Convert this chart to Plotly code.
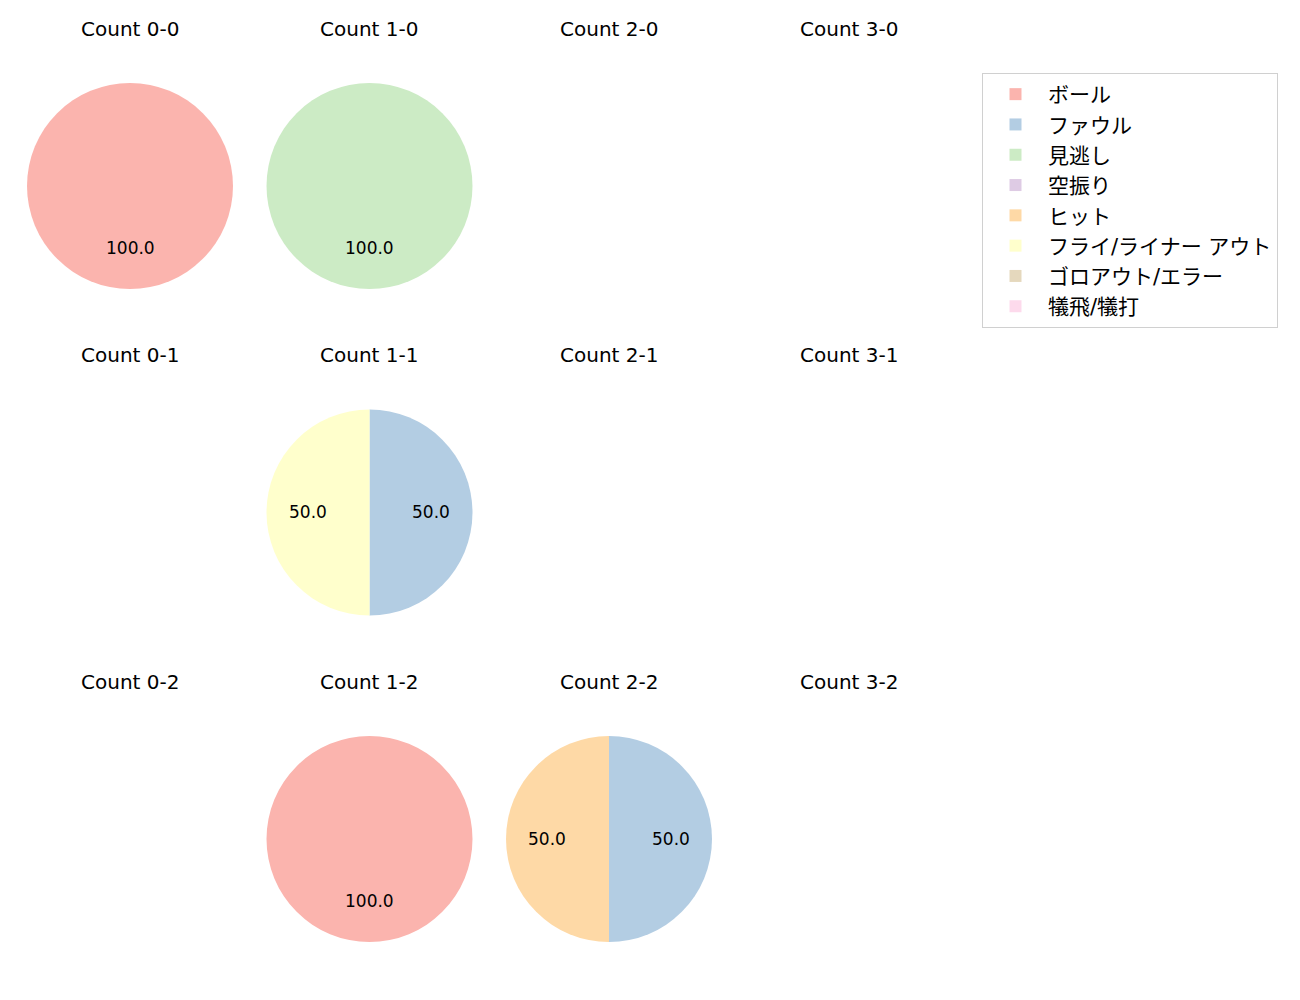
import math
import plotly.graph_objects as go

# ---- data ----
categories = ["ボール", "ファウル", "見逃し", "空振り", "ヒット",
              "フライ/ライナー アウト", "ゴロアウト/エラー", "犠飛/犠打"]
colors = ["#fbb4ae", "#b3cde3", "#ccebc5", "#decbe4", "#fed9a6",
          "#ffffcc", "#e5d8bd", "#fddaec"]
counts = ["0-0", "1-0", "2-0", "3-0",
          "0-1", "1-1", "2-1", "3-1",
          "0-2", "1-2", "2-2", "3-2"]
values = {
    "0-0": [1, 0, 0, 0, 0, 0, 0, 0],
    "1-0": [0, 0, 1, 0, 0, 0, 0, 0],
    "2-0": [0, 0, 0, 0, 0, 0, 0, 0],
    "3-0": [0, 0, 0, 0, 0, 0, 0, 0],
    "0-1": [0, 0, 0, 0, 0, 0, 0, 0],
    "1-1": [0, 1, 0, 0, 0, 1, 0, 0],
    "2-1": [0, 0, 0, 0, 0, 0, 0, 0],
    "3-1": [0, 0, 0, 0, 0, 0, 0, 0],
    "0-2": [0, 0, 0, 0, 0, 0, 0, 0],
    "1-2": [1, 0, 0, 0, 0, 0, 0, 0],
    "2-2": [0, 1, 0, 0, 1, 0, 0, 0],
    "3-2": [0, 0, 0, 0, 0, 0, 0, 0],
}

# ---- layout geometry (pixels, figure coordinates) ----
W, H = 1300, 1000
OFF = 8  # page body margin
col_cx = [130 - OFF, 369.5 - OFF, 609 - OFF, 849 - OFF]
row_cy = [186 - OFF, 512.5 - OFF, 839 - OFF]
R = 103
LATIN = "DejaVu Sans"
CJK = "DejaVu Sans, Noto Sans CJK JP"

fig = go.Figure()
annotations = []
for idx, c in enumerate(counts):
    col = idx % 4
    row = idx // 4
    cx, cy = col_cx[col], row_cy[row]
    # title
    annotations.append(dict(
        x=cx / W, y=1 - (cy - 157) / H, xref="paper", yref="paper",
        text=f"Count {c}", showarrow=False,
        font=dict(family=LATIN, size=20, color="#000"),
        xanchor="center", yanchor="middle"))
    vals = values[c]
    total = sum(vals)
    if total == 0:
        continue
    fig.add_trace(go.Pie(
        labels=categories, values=vals, sort=False, direction="clockwise",
        rotation=0, marker=dict(colors=colors, line=dict(width=0)),
        textinfo="none", hoverinfo="label+percent",
        domain=dict(x=[(cx - R) / W, (cx + R) / W],
                    y=[1 - (cy + R) / H, 1 - (cy - R) / H]),
        showlegend=True,
    ))
    cum = 0
    for v in vals:
        if v > 0:
            pct = 100 * v / total
            theta = math.radians(90 - 360 * (cum + v / 2) / total)
            px = cx + 0.6 * R * math.cos(theta)
            py = cy - 0.6 * R * math.sin(theta)
            annotations.append(dict(
                x=px / W, y=1 - py / H, xref="paper", yref="paper",
                text=f"{pct:.1f}", showarrow=False,
                font=dict(family=LATIN, size=17, color="#000"),
                xanchor="center", yanchor="middle"))
        cum += v

fig.update_layout(
    width=W, height=H,
    margin=dict(l=0, r=0, t=0, b=0),
    paper_bgcolor="white", plot_bgcolor="white",
    annotations=annotations,
    legend=dict(
        x=(982 - OFF) / W, y=1 - (73 - OFF) / H, xanchor="left", yanchor="top",
        bordercolor="#d0d0d0", borderwidth=1,
        font=dict(family=CJK, size=21, color="#000"),
        traceorder="normal", itemwidth=55,
    ),
)

fig.write_html("out.html")
